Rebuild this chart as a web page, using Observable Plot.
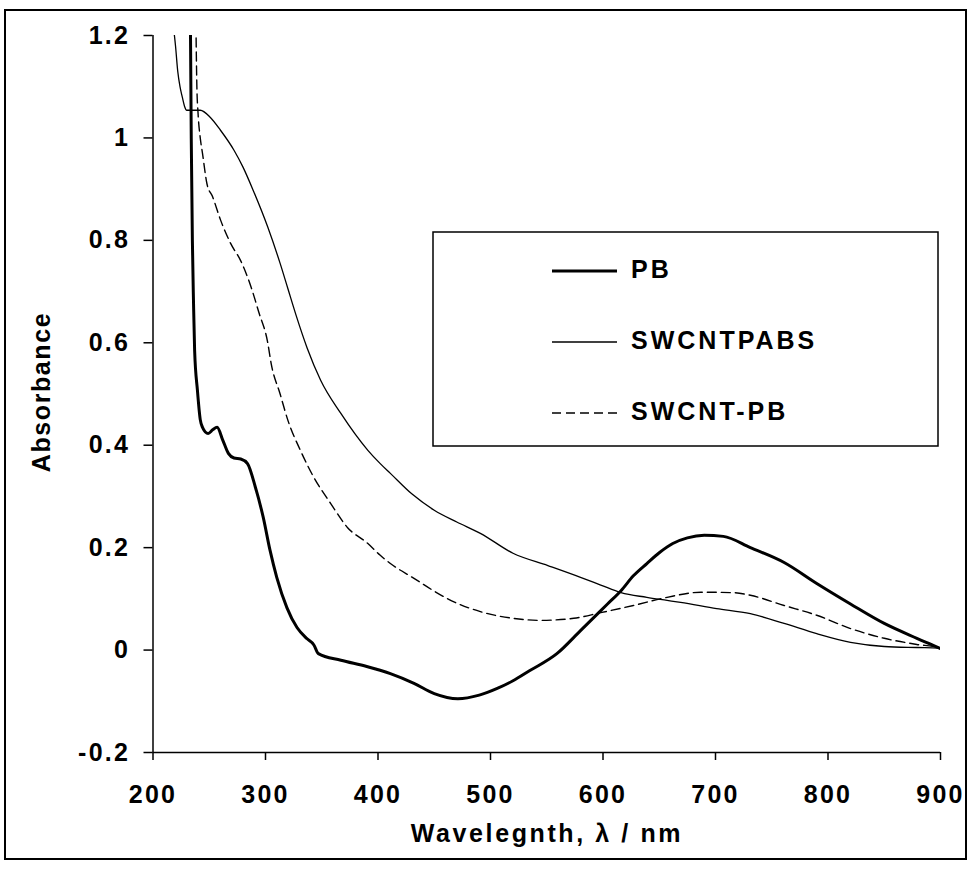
<!DOCTYPE html>
<html>
<head>
<meta charset="utf-8">
<script src="https://cdn.jsdelivr.net/npm/d3@7"></script>
<script src="https://cdn.jsdelivr.net/npm/@observablehq/plot@0.6"></script>
<style>
  body { margin: 0; background: #fff; }
  #chart svg text { font-family: "Liberation Sans", Arial, sans-serif; font-weight: bold; font-size: 25px; letter-spacing: 2.2px; fill: #000; }
</style>
</head>
<body>
<div id="chart"></div>
<script>
// --- data ---
const seriesNames = ["PB", "SWCNTPABS", "SWCNT-PB"];

const pbWavelength = [233, 234, 235, 236, 237, 239.5, 242, 244, 249, 253, 257, 262, 267, 272, 278, 284, 291, 298, 304, 310, 319, 328, 337, 343, 347, 367, 390, 411, 432, 450, 471, 490, 506, 520, 535, 559, 580, 604, 616, 627, 639, 650, 662, 675, 690, 707, 731, 761, 790, 820, 850, 879, 898, 900];
const pbAbsorbance = [1.3, 1.0, 0.8, 0.68, 0.585, 0.507, 0.45, 0.435, 0.423, 0.43, 0.435, 0.41, 0.384, 0.375, 0.373, 0.364, 0.318, 0.259, 0.195, 0.142, 0.083, 0.044, 0.022, 0.01, -0.007, -0.02, -0.032, -0.046, -0.065, -0.085, -0.095, -0.088, -0.075, -0.06, -0.04, -0.007, 0.038, 0.09, 0.116, 0.145, 0.169, 0.19, 0.208, 0.219, 0.224, 0.222, 0.2, 0.171, 0.13, 0.09, 0.052, 0.023, 0.005, 0.003];

const pabsWavelength = [218, 220, 222, 224, 226, 228, 230, 236, 242, 251, 260, 272, 280, 289, 302, 313, 320, 327, 337, 349, 367, 391, 402, 411, 430, 450, 470, 491, 520, 551, 580, 598, 616, 639, 657, 669, 701, 731, 761, 790, 820, 850, 879, 898, 900];
const pabsAbsorbance = [1.22, 1.18, 1.13, 1.1, 1.08, 1.062, 1.054, 1.054, 1.054, 1.04, 1.015, 0.976, 0.943, 0.898, 0.826, 0.755, 0.705, 0.655, 0.59, 0.527, 0.462, 0.39, 0.364, 0.345, 0.305, 0.273, 0.25, 0.228, 0.189, 0.165, 0.142, 0.127, 0.112, 0.103, 0.097, 0.093, 0.081, 0.071, 0.052, 0.032, 0.015, 0.007, 0.005, 0.004, 0.002];

const swpbWavelength = [238, 239, 240, 242, 244, 248, 253, 260, 269, 278, 287, 294, 302, 305, 313, 320, 331, 343, 358, 373, 391, 402, 411, 432, 450, 462, 491, 520, 544, 574, 598, 627, 657, 687, 716, 731, 761, 790, 820, 850, 879, 898, 900];
const swpbAbsorbance = [1.25, 1.1, 1.05, 1.0, 0.97, 0.91, 0.885, 0.84, 0.794, 0.76, 0.71, 0.66, 0.6, 0.56, 0.5, 0.448, 0.39, 0.337, 0.286, 0.239, 0.208, 0.185, 0.169, 0.14, 0.115, 0.1, 0.075, 0.062, 0.058, 0.062, 0.073, 0.087, 0.103, 0.113, 0.112, 0.107, 0.087, 0.068, 0.042, 0.023, 0.011, 0.005, 0.003];

const xTicks = [200, 300, 400, 500, 600, 700, 800, 900];
const yTicks = [-0.2, 0, 0.2, 0.4, 0.6, 0.8, 1, 1.2];
const yTickLabels = ["-0.2", "0", "0.2", "0.4", "0.6", "0.8", "1", "1.2"];

const xLabel = "Wavelegnth, \u03bb / nm";
const yLabel = "Absorbance";

// --- build tables ---
const toRows = (name, xs, ys) => xs.map((x, i) => ({series: name, wavelength: x, absorbance: ys[i]}));
const pbRows = toRows(seriesNames[0], pbWavelength, pbAbsorbance);
const pabsRows = toRows(seriesNames[1], pabsWavelength, pabsAbsorbance);
const swpbRows = toRows(seriesNames[2], swpbWavelength, swpbAbsorbance);

const W = 970, H = 876;
const chart = Plot.plot({
  width: W,
  height: H,
  marginLeft: 152.5,
  marginRight: 30,
  marginTop: 35,
  marginBottom: 124,
  style: {background: "#fff", overflow: "visible"},
  x: {domain: [200, 900]},
  y: {domain: [-0.2, 1.2]},
  marks: [
    Plot.axisX({ticks: xTicks, tickSize: 8, tickPadding: 25, tickFormat: d => String(d), label: null, stroke: "#000", strokeWidth: 1.5}),
    Plot.axisY({ticks: yTicks, tickSize: 9, tickPadding: 14, tickFormat: d => yTickLabels[yTicks.indexOf(d)], label: null, stroke: "#000", strokeWidth: 1.5}),
    Plot.ruleX([200], {stroke: "#000", strokeWidth: 1.5}),
    Plot.ruleY([-0.2], {stroke: "#000", strokeWidth: 1.5}),
    Plot.line(pabsRows, {x: "wavelength", y: "absorbance", stroke: "#000", strokeWidth: 1.3, curve: "monotone-x", clip: true}),
    Plot.line(swpbRows, {x: "wavelength", y: "absorbance", stroke: "#000", strokeWidth: 1.4, strokeDasharray: "9,5", curve: "monotone-x", clip: true}),
    Plot.line(pbRows, {x: "wavelength", y: "absorbance", stroke: "#000", strokeWidth: 3, curve: "monotone-x", clip: true})
  ]
});
document.getElementById("chart").appendChild(chart);

// --- decorations: outer frame, axis titles, legend ---
const svg = d3.select(chart);
svg.append("rect").attr("x", 5).attr("y", 10).attr("width", 961).attr("height", 849)
  .attr("fill", "none").attr("stroke", "#000").attr("stroke-width", 2);

svg.append("text").attr("x", 547).attr("y", 835).attr("text-anchor", "middle")
  .attr("dominant-baseline", "middle").style("letter-spacing", "2.6px").text(xLabel);
svg.append("text").attr("transform", "translate(43,392) rotate(-90)").attr("text-anchor", "middle")
  .attr("dominant-baseline", "middle").style("letter-spacing", "1.6px").text(yLabel);

const legend = svg.append("g").attr("text-anchor", "start");
legend.append("rect").attr("x", 433).attr("y", 232).attr("width", 505).attr("height", 214)
  .attr("fill", "#fff").attr("stroke", "#000").attr("stroke-width", 1.5);
const legendStyles = [
  {w: 3, dash: null},
  {w: 1.3, dash: null},
  {w: 1.4, dash: "9,5"}
];
const rowY = [271, 342, 413];
seriesNames.forEach((name, i) => {
  const l = legend.append("line").attr("x1", 552).attr("x2", 617).attr("y1", rowY[i]).attr("y2", rowY[i])
    .attr("stroke", "#000").attr("stroke-width", legendStyles[i].w);
  if (legendStyles[i].dash) l.attr("stroke-dasharray", legendStyles[i].dash);
  legend.append("text").attr("x", 631).attr("y", rowY[i]).attr("text-anchor", "start")
    .attr("dominant-baseline", "middle").style("letter-spacing", "3px").text(name);
});
</script>
</body>
</html>
